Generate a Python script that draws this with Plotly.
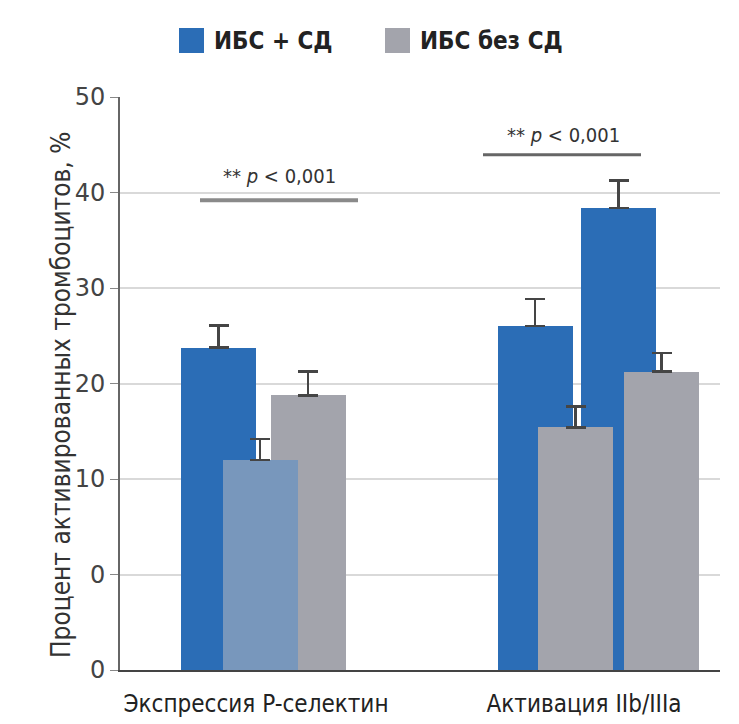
import plotly.graph_objects as go

# ---- data ----
categories = ["Экспрессия P-селектин", "Активация IIb/IIIa"]
series_names = ["ИБС + СД", "ИБС без СД"]

# blue bars (ИБС + СД): group1, group2 (first), group2 (second)
blue_vals = [23.75, 26.0, 38.4]
blue_err = [2.35, 2.85, 2.85]
# grey bars (ИБС без СД)
gray_vals = [18.75, 15.4, 21.25]
gray_err = [2.5, 2.2, 1.95]
# light blue-grey bar in group 1
light_vals = [12.0]
light_err = [2.2]

y_tickvals = [-10, 0, 10, 20, 30, 40, 50]
y_ticktext = ["0", "0", "10", "20", "30", "40", "50"]
p_text = "** <i>p</i> < 0,001"

# ---- layout positions (x in px units from plot-area left) ----
blue_x = [98.5, 415, 498.5]
gray_x = [188, 455.5, 541.5]
light_x = [140]
bar_w = 75
cat_x = [136, 464]
base = -10

BLUE = "#2b6db6"
GRAY = "#a3a4ac"
LIGHT = "#7897bc"
ERR = "#454545"
FONT = "DejaVu Sans Condensed, Liberation Sans Narrow, Open Sans, sans-serif"
NUMFONT = "DejaVu Sans, Open Sans, sans-serif"

def err(arr):
    return dict(type="data", symmetric=False, array=arr, arrayminus=[0]*len(arr),
                color=ERR, thickness=2.5, width=10)

fig = go.Figure()
fig.add_trace(go.Bar(x=blue_x, y=[v - base for v in blue_vals], base=base, width=bar_w,
                     marker=dict(color=BLUE, line=dict(width=0)), error_y=err(blue_err),
                     name=series_names[0], showlegend=False))
fig.add_trace(go.Bar(x=gray_x, y=[v - base for v in gray_vals], base=base, width=bar_w,
                     marker=dict(color=GRAY, line=dict(width=0)), error_y=err(gray_err),
                     name=series_names[1], showlegend=False))
fig.add_trace(go.Bar(x=light_x, y=[v - base for v in light_vals], base=base, width=bar_w,
                     marker=dict(color=LIGHT, line=dict(width=0)), error_y=err(light_err),
                     name=series_names[1], showlegend=False))

# significance lines: (x0, x1, y_line, x_text, y_text, colour, width)
sig = [(80, 238, 39.2, 159, 41.7, "#8a8a8a", 4),
       (363, 521, 43.95, 443, 46.0, "#666666", 3)]
for x0, x1, yl, xt, yt, col, lw in sig:
    fig.add_shape(type="line", xref="x", yref="y", x0=x0, x1=x1, y0=yl, y1=yl,
                  line=dict(color=col, width=lw))
    fig.add_annotation(xref="x", yref="y", x=xt, y=yt, text=p_text, showarrow=False,
                       font=dict(family=FONT, size=20, color="#333333"))

# legend (custom squares)
H = 573.0
def py(px):
    return (670 - px) / H
def pxx(px):
    return (px - 120) / 600.0
legend_items = [(BLUE, series_names[0], 179), (GRAY, series_names[1], 385)]
for col, name, lx in legend_items:
    fig.add_shape(type="rect", xref="paper", yref="paper", x0=pxx(lx), x1=pxx(lx + 25),
                  y0=py(53), y1=py(28), fillcolor=col, line=dict(width=0))
    fig.add_annotation(xref="paper", yref="paper", x=pxx(lx + 33), y=py(41), text="<b>" + name + "</b>",
                       xanchor="left", yanchor="middle", showarrow=False,
                       font=dict(family=FONT, size=24, color="#222222"))

# y axis title
fig.add_annotation(xref="paper", yref="paper", x=pxx(44), y=py(395),
                   text="Процент активированных тромбоцитов, %", textangle=-90,
                   showarrow=False, font=dict(family=FONT, size=26, color="#333333"))

fig.update_layout(
    width=739, height=724,
    margin=dict(l=120, r=19, t=97, b=54),
    paper_bgcolor="white", plot_bgcolor="white",
    barmode="overlay", bargap=0,
    xaxis=dict(range=[0, 600], showgrid=False, zeroline=False, showline=True,
               linecolor="#444444", linewidth=2, tickvals=cat_x, ticktext=categories,
               ticks="outside", ticklen=11, tickcolor="rgba(0,0,0,0)", automargin=False,
               tickfont=dict(family=FONT, size=24, color="#222222")),
    yaxis=dict(range=[-10, 50], tickvals=y_tickvals, ticktext=y_ticktext,
               showgrid=True, gridcolor="#d9d9d9", gridwidth=1.5, zeroline=False,
               showline=True, linecolor="#666666", linewidth=2, automargin=False,
               ticks="outside", ticklen=8, tickcolor="#888888",
               tickfont=dict(family=NUMFONT, size=24, color="#444444")),
)

fig.write_html("out.html", config={"displayModeBar": False},
               post_script="document.body.style.margin='0';")
